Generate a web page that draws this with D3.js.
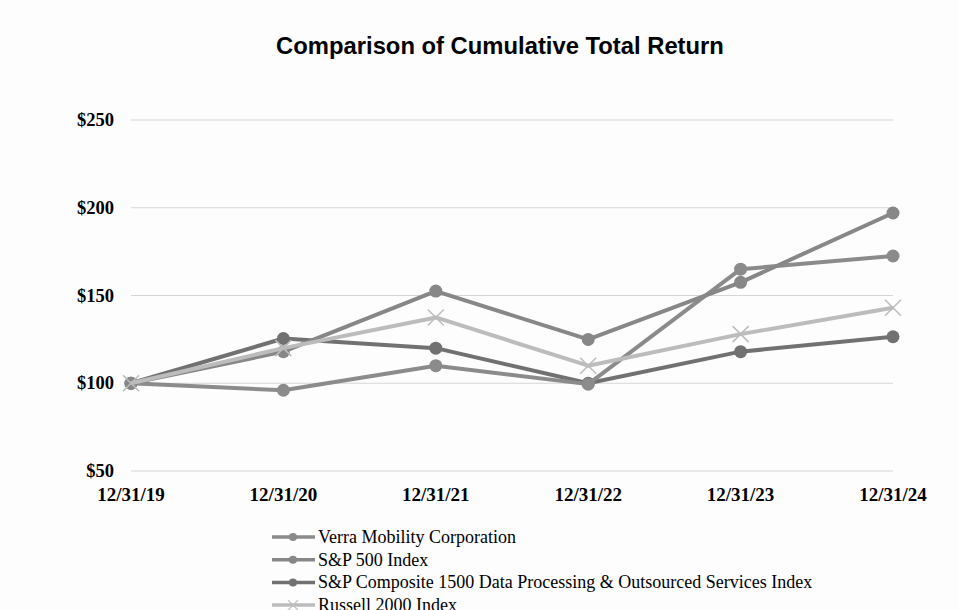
<!DOCTYPE html>
<html>
<head>
<meta charset="utf-8">
<script src="https://cdn.jsdelivr.net/npm/d3@7"></script>
<style>
  body { margin: 0; background: #fdfdfd; }
  svg { display: block; }
</style>
</head>
<body>
<svg id="chart"></svg>
<script>
// Chart data
const dates = ["12/31/19", "12/31/20", "12/31/21", "12/31/22", "12/31/23", "12/31/24"];
const yTicks = [50, 100, 150, 200, 250];
const seriesNames = [
    "Verra Mobility Corporation",
    "S&P 500 Index",
    "S&P Composite 1500 Data Processing & Outsourced Services Index",
    "Russell 2000 Index"
];
const verra = [100, 96, 110, 99.5, 165, 172.5];
const sp500 = [100, 118, 152.5, 125, 157.5, 197];
const sp1500 = [100, 125.5, 120, 100, 118, 126.5];
const russell = [100, 120, 137.5, 110, 128, 143];

const width = 959;
const height = 610;

const svg = d3.select("#chart")
    .attr("width", width)
    .attr("height", height);

const x = d3.scalePoint()
    .domain(dates)
    .range([131, 893]);

const y = d3.scaleLinear()
    .domain([50, 250])
    .range([471, 120]);

// Title
svg.append("text")
    .attr("x", 500)
    .attr("y", 54)
    .attr("text-anchor", "middle")
    .style("font-family", "Liberation Sans, Arial, sans-serif")
    .style("font-weight", "bold")
    .style("font-size", "23.8px")
    .text("Comparison of Cumulative Total Return");

// Gridlines
svg.append("g")
    .selectAll("line")
    .data(yTicks)
    .enter().append("line")
    .attr("x1", 131)
    .attr("x2", 893)
    .attr("y1", d => y(d))
    .attr("y2", d => y(d))
    .attr("stroke", "#d6d6d6")
    .attr("stroke-width", 1.2);

// Y axis labels
svg.append("g")
    .selectAll("text")
    .data(yTicks)
    .enter().append("text")
    .attr("x", 114)
    .attr("y", d => y(d) + 6)
    .attr("text-anchor", "end")
    .style("font-family", "Liberation Serif, Times New Roman, serif")
    .style("font-weight", "bold")
    .style("font-size", "18.5px")
    .text(d => "$" + d);

// X axis labels
svg.append("g")
    .selectAll("text")
    .data(dates)
    .enter().append("text")
    .attr("x", d => x(d))
    .attr("y", 501)
    .attr("text-anchor", "middle")
    .style("font-family", "Liberation Serif, Times New Roman, serif")
    .style("font-weight", "bold")
    .style("font-size", "19px")
    .text(d => d);

const series = [
    { name: seriesNames[0], values: verra, color: "#8b8b8b", marker: "circle" },
    { name: seriesNames[1], values: sp500, color: "#878787", marker: "circle" },
    { name: seriesNames[2], values: sp1500, color: "#717171", marker: "circle" },
    { name: seriesNames[3], values: russell, color: "#bcbcbc", marker: "cross" }
];

const line = d3.line()
    .x((d, i) => x(dates[i]))
    .y(d => y(d));

// Draw each series: line then markers
const drawOrder = [2, 0, 1, 3];
drawOrder.forEach(k => {
    const s = series[k];
    const g = svg.append("g");
    g.append("path")
        .datum(s.values)
        .attr("fill", "none")
        .attr("stroke", s.color)
        .attr("stroke-width", 4)
        .attr("stroke-linejoin", "round")
        .attr("d", line);

    if (s.marker === "circle") {
        g.selectAll("circle")
            .data(s.values)
            .enter().append("circle")
            .attr("cx", (d, i) => x(dates[i]))
            .attr("cy", d => y(d))
            .attr("r", 6.5)
            .attr("fill", s.color);
    } else {
        g.selectAll("path.mark")
            .data(s.values)
            .enter().append("path")
            .attr("class", "mark")
            .attr("d", (d, i) => {
                const cx = x(dates[i]), cy = y(d), r = 8;
                return `M${cx - r},${cy - r}L${cx + r},${cy + r}M${cx - r},${cy + r}L${cx + r},${cy - r}`;
            })
            .attr("stroke", s.color)
            .attr("stroke-width", 1.5);
    }
});

// Legend
const legend = svg.append("g");
const rows = legend.selectAll("g")
    .data(series)
    .enter().append("g")
    .attr("transform", (d, i) => `translate(0, ${537 + i * 22.7})`);

rows.append("line")
    .attr("x1", 272)
    .attr("x2", 315)
    .attr("stroke", d => d.color)
    .attr("stroke-width", 3.5);

rows.filter(d => d.marker === "circle")
    .append("circle")
    .attr("cx", 293)
    .attr("r", 4)
    .attr("fill", d => d.color);

rows.filter(d => d.marker === "cross")
    .append("path")
    .attr("d", "M288,-5L298,5M288,5L298,-5")
    .attr("stroke", d => d.color)
    .attr("stroke-width", 1.2);

rows.append("text")
    .attr("x", 318)
    .attr("y", 6)
    .style("font-family", "Liberation Serif, Times New Roman, serif")
    .style("font-size", "18px")
    .text(d => d.name);
</script>
</body>
</html>
